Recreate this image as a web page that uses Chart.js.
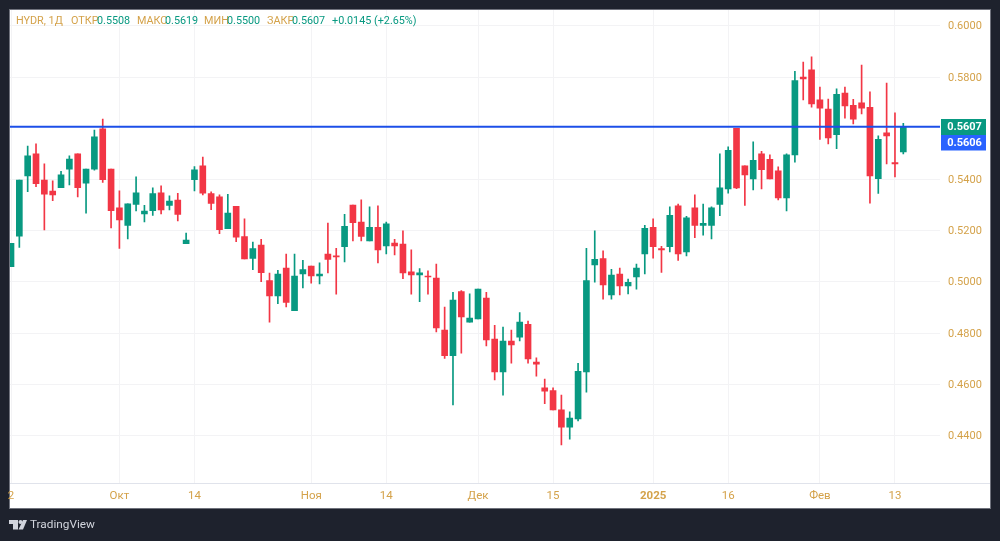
<!DOCTYPE html>
<html><head><meta charset="utf-8">
<style>html,body{margin:0;padding:0;background:#1e222d;overflow:hidden}canvas{display:block}</style>
<script src="https://cdn.jsdelivr.net/npm/chart.js@4"></script>
</head><body><canvas id="c" width="1000" height="541"></canvas>
<script>
const opens=[.5059,.5179,.5414,.5500,.5398,.5355,.5368,.5440,.5500,.5386,.5440,.5598,.5441,.5289,.5221,.5303,.5266,.5278,.5348,.5299,.5320,.5149,.5399,.5453,.5345,.5332,.5208,.5295,.5177,.5092,.5144,.5005,.4945,.5054,.4888,.5031,.5062,.5023,.5109,.5102,.5138,.5300,.5234,.5160,.5213,.5141,.5152,.5148,.5039,.5027,.5023,.5015,.4812,.4712,.4962,.4843,.4855,.4937,.4777,.4648,.4769,.4784,.4834,.4687,.4586,.4575,.4500,.4433,.4465,.4648,.5066,.5091,.4949,.5031,.4984,.5019,.5109,.5213,.5130,.5138,.5297,.5117,.5289,.5221,.5221,.5303,.5363,.5600,.5453,.5402,.5500,.5479,.5434,.5328,.5496,.5800,.5828,.5711,.5675,.5575,.5738,.5690,.5699,.5682,.5403,.5582,.5466,.5508];
const closes=[.5151,.5398,.5492,.5384,.5343,.5340,.5418,.5480,.5368,.5441,.5567,.5399,.5278,.5242,.5305,.5348,.5277,.5345,.5281,.5316,.5264,.5163,.5438,.5347,.5307,.5204,.5269,.5175,.5090,.5130,.5036,.4945,.5031,.4920,.5023,.5048,.5023,.5031,.5088,.5098,.5217,.5231,.5178,.5213,.5125,.5227,.5141,.5035,.5027,.5035,.5019,.4820,.4712,.4929,.4863,.4859,.4972,.4773,.4648,.4769,.4754,.4843,.4699,.4679,.4573,.4500,.4433,.4468,.4651,.5005,.5088,.4988,.5027,.4984,.4998,.5054,.5209,.5138,.5125,.5260,.5109,.5250,.5221,.5229,.5289,.5367,.5514,.5367,.5418,.5475,.5438,.5402,.5328,.5496,.5786,.5793,.5695,.5679,.5562,.5733,.5687,.5636,.5679,.5414,.5557,.5570,.5461,.5607];
const highs=[.5151,.5398,.5531,.5539,.5461,.5395,.5432,.5492,.5500,.5441,.5593,.5636,.5441,.5356,.5305,.5410,.5299,.5367,.5375,.5336,.5346,.5191,.5450,.5488,.5352,.5340,.5342,.5295,.5246,.5156,.5166,.5034,.5045,.5109,.5109,.5084,.5062,.5074,.5230,.5131,.5264,.5300,.5321,.5293,.5297,.5234,.5166,.5199,.5125,.5052,.5043,.5070,.4902,.4959,.4966,.4953,.4972,.4959,.4830,.4824,.4812,.4880,.4847,.4703,.4620,.4586,.4558,.4492,.4682,.5131,.5199,.5121,.5049,.5054,.5011,.5070,.5221,.5246,.5139,.5293,.5304,.5256,.5340,.5304,.5293,.5500,.5528,.5600,.5453,.5547,.5510,.5496,.5449,.5500,.5823,.5859,.5879,.5761,.5714,.5754,.5761,.5713,.5847,.5742,.5571,.5777,.5660,.5619];
const lows=[.5059,.5135,.5352,.5372,.5203,.5317,.5368,.5379,.5332,.5268,.5436,.5389,.5211,.5131,.5168,.5277,.5234,.5260,.5266,.5281,.5238,.5149,.5355,.5340,.5282,.5188,.5208,.5157,.5090,.5048,.5001,.4843,.4915,.4902,.4888,.4976,.4995,.4992,.5035,.4952,.5078,.5160,.5160,.5160,.5074,.5109,.5105,.5013,.4952,.4923,.4952,.4805,.4701,.4519,.4722,.4843,.4855,.4750,.4617,.4558,.4683,.4769,.4683,.4632,.4524,.4500,.4363,.4386,.4457,.4569,.4999,.4933,.4933,.4949,.4953,.4972,.5031,.5093,.5037,.5117,.5084,.5101,.5173,.5183,.5168,.5259,.5347,.5364,.5299,.5359,.5363,.5402,.5320,.5277,.5468,.5711,.5683,.5557,.5539,.5520,.5640,.5617,.5656,.5308,.5346,.5461,.5410,.5500];
const timeTickIndex=[0,13,22,36,45,56,65,77,86,97,106];
const timeTickLabels=["2","Окт","14","Ноя","14","Дек","15","2025","16","Фев","13"];
const boldTimeLabel="2025";
const priceTicks=[0.44,0.46,0.48,0.50,0.52,0.54,0.58,0.60];
const lastPrice=0.5607;
const lineValue=0.5606;
const headerParts=[["HYDR, 1Д",16,0],["ОТКР",71,0],["0.5508",97,1],["МАКС",137,0],["0.5619",165,1],["МИН",204,0],["0.5500",227,1],["ЗАКР",267,0],["0.5607",292,1],["+0.0145 (+2.65%)",332,1]];

const UP='#089981',DOWN='#F23645',GOLD='#d4a24a',DARK='#1e222d',GRID='#f3f3f5',LINE='#e0e3eb',BLUE='#1c4fe8';
const FONT='Roboto, "Liberation Sans", sans-serif';
const colors=opens.map((o,i)=>closes[i]>=o?UP:DOWN);
const XMIN=-0.12,XMAX=111.4;

const frame={id:'frame',
 beforeDraw(ch){const x=ch.ctx;x.save();
  x.fillStyle=DARK;x.fillRect(0,0,1000,541);
  x.fillStyle='#fff';x.fillRect(10,10,980,498);
  x.strokeStyle='#6f727c';x.lineWidth=1;x.strokeRect(9.5,9.5,981,499);
  x.restore();},
 afterDraw(ch){const x=ch.ctx;x.save();
  x.strokeStyle=LINE;x.lineWidth=1;x.beginPath();x.moveTo(10,483.5);x.lineTo(990,483.5);x.stroke();
  x.textBaseline='middle';x.textAlign='left';x.font='10.8px '+FONT;
  headerParts.forEach(p=>{x.fillStyle=p[2]?UP:GOLD;x.fillText(p[0],p[1],21.5);});
  x.fillStyle=UP;x.fillRect(941,119,45,16);
  x.fillStyle='#2962ff';x.fillRect(941,135,45,15.5);
  x.fillStyle='#fff';x.font='bold 11px '+FONT;x.textAlign='center';
  x.fillText(lastPrice.toFixed(4),964.5,127.5);
  x.fillText(lineValue.toFixed(4),964.5,143);
  x.fillStyle='#d1d4dc';
  x.fillRect(9,520,9,4);x.fillRect(13,520,5,9.5);
  x.beginPath();x.arc(20.5,522,2,0,7);x.fill();
  x.beginPath();x.moveTo(23,520);x.lineTo(27,520);x.lineTo(23,529.5);x.lineTo(18.5,529.5);x.closePath();x.fill();
  x.font='11.8px '+FONT;x.textAlign='left';x.fillText('TradingView',30,525.5);
  x.restore();}
};
const noPad=s=>{s.paddingLeft=0;s.paddingRight=0;s.paddingTop=0;s.paddingBottom=0;};

new Chart(document.getElementById('c'),{
 data:{datasets:[
  {type:'line',data:[{x:XMIN,y:lineValue},{x:XMAX,y:lineValue}],borderColor:BLUE,borderWidth:2,pointRadius:0,order:0},
  {type:'bar',data:opens.map((o,i)=>({x:i,y:[o,closes[i]]})),backgroundColor:colors,borderWidth:0,barThickness:6,grouped:false,order:1},
  {type:'bar',data:opens.map((o,i)=>({x:i,y:[lows[i],highs[i]]})),backgroundColor:colors,borderWidth:0,barThickness:1,grouped:false,order:2}
 ]},
 options:{responsive:false,animation:false,devicePixelRatio:1,
  layout:{padding:{left:10,right:10,top:10,bottom:33}},
  plugins:{legend:{display:false},tooltip:{enabled:false}},
  scales:{
   x:{type:'linear',min:XMIN,max:XMAX,offset:false,
    afterBuildTicks(s){s.ticks=timeTickIndex.map(v=>({value:v}));},
    afterFit(s){s.height=24.5;noPad(s);},
    grid:{color:GRID,drawTicks:false,offset:false},border:{display:false},
    ticks:{autoSkip:false,maxRotation:0,padding:6,color:GOLD,
     font:c=>({family:FONT,size:11.5,weight:timeTickLabels[timeTickIndex.indexOf(c.tick&&c.tick.value)]===boldTimeLabel?'bold':'normal'}),
     callback:v=>timeTickLabels[timeTickIndex.indexOf(v)]}},
   y:{type:'linear',position:'right',min:0.42125,max:0.60621,
    afterBuildTicks(s){s.ticks=priceTicks.map(v=>({value:v}));},
    afterFit(s){s.width=50;noPad(s);},
    grid:{color:GRID,drawTicks:false},border:{display:false},
    ticks:{padding:8,labelOffset:0.8,color:GOLD,font:{family:FONT,size:11},callback:v=>v.toFixed(4)}}
  }},
 plugins:[frame]
});
</script></body></html>
